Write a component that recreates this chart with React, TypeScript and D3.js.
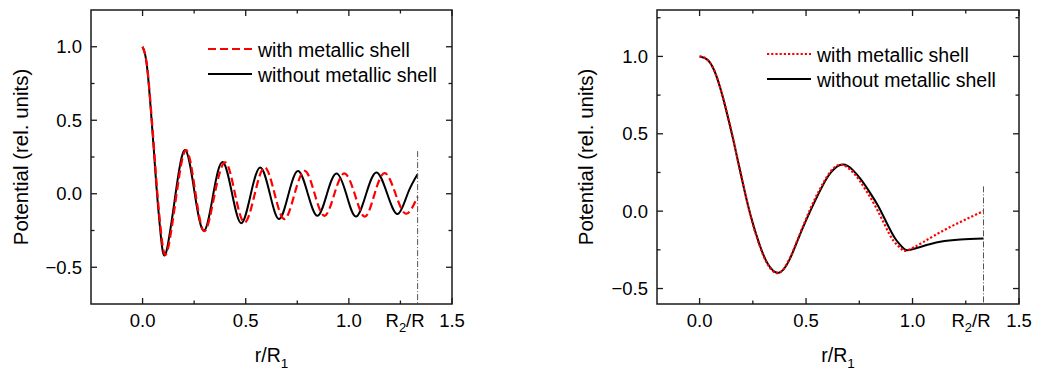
import * as d3 from "d3";

// ---- left panel data (r/R1, potential) ----
const leftWithoutX = [0, 0.012, 0.025, 0.04, 0.055, 0.07, 0.088, 0.113, 0.16, 0.207, 0.253, 0.298, 0.343, 0.388, 0.434, 0.479, 0.525, 0.571, 0.617, 0.662, 0.708, 0.754, 0.801, 0.848, 0.894, 0.94, 0.987, 1.034, 1.084, 1.134, 1.186, 1.237, 1.285, 1.333];
const leftWithoutY = [1.0, 0.95, 0.82, 0.57, 0.29, 0.0, -0.28, -0.405, 0.0, 0.297, 0.0, -0.252, 0.0, 0.216, 0.0, -0.2, 0.0, 0.179, 0.0, -0.172, 0.0, 0.154, 0.0, -0.15, 0.0, 0.138, 0.0, -0.155, 0.0, 0.145, 0.0, -0.138, 0.0, 0.132];
const leftWithX = [0, 0.012, 0.025, 0.04, 0.056, 0.072, 0.091, 0.118, 0.165, 0.212, 0.257, 0.301, 0.35, 0.401, 0.448, 0.495, 0.544, 0.592, 0.64, 0.688, 0.737, 0.786, 0.834, 0.882, 0.93, 0.978, 1.028, 1.077, 1.125, 1.174, 1.226, 1.277, 1.333];
const leftWithY = [1.0, 0.95, 0.83, 0.59, 0.3, 0.0, -0.28, -0.4, 0.0, 0.297, 0.0, -0.255, 0.0, 0.213, 0.0, -0.196, 0.0, 0.179, 0.0, -0.172, 0.0, 0.156, 0.0, -0.15, 0.0, 0.138, 0.0, -0.156, 0.0, 0.14, 0.0, -0.136, -0.02];

// ---- right panel data ----
const rightWithoutX = [0, 0.04, 0.08, 0.12, 0.16, 0.2, 0.24, 0.28, 0.32, 0.372, 0.42, 0.46, 0.5, 0.54, 0.58, 0.62, 0.672, 0.72, 0.76, 0.8, 0.84, 0.88, 0.92, 0.95, 0.975, 1.04, 1.13, 1.225, 1.333];
const rightWithoutY = [1.0, 0.975, 0.87, 0.68, 0.45, 0.2, -0.03, -0.21, -0.34, -0.398, -0.32, -0.19, -0.06, 0.06, 0.17, 0.255, 0.301, 0.265, 0.2, 0.12, 0.03, -0.08, -0.18, -0.23, -0.252, -0.23, -0.198, -0.183, -0.176];
const rightWithX = [0, 0.04, 0.08, 0.12, 0.16, 0.2, 0.24, 0.28, 0.32, 0.37, 0.42, 0.46, 0.5, 0.54, 0.58, 0.62, 0.665, 0.71, 0.75, 0.79, 0.83, 0.87, 0.91, 0.945, 0.972, 1.05, 1.163, 1.333];
const rightWithY = [1.0, 0.975, 0.87, 0.68, 0.45, 0.2, -0.035, -0.215, -0.345, -0.4, -0.315, -0.185, -0.05, 0.075, 0.18, 0.265, 0.3, 0.265, 0.2, 0.115, 0.02, -0.09, -0.19, -0.24, -0.255, -0.2, -0.112, 0.0];

const xMajor = [0, 0.5, 1.0, 1.5];
const xMinor = [0.25, 0.75, 1.25];
const yMajor = [-0.5, 0, 0.5, 1.0];
const yMinor = [-0.75, -0.25, 0.25, 0.75, 1.25];
const legendLabels = ["with metallic shell", "without metallic shell"];
const r2Ratio = 4 / 3;

const FONT = "'Liberation Sans', Arial, sans-serif";

const zip = (xs: number[], ys: number[]) => xs.map((x, i) => [x, ys[i]] as [number, number]);

function Panel(props: any) {
  const { left, right, top, bottom, xDomain, yDomain, withX, withY, withoutX, withoutY, dash, curve, legX, legY, lineTop, titleX } = props;
  const x = d3.scaleLinear(xDomain, [left, right]);
  const y = d3.scaleLinear(yDomain, [bottom, top]);
  const line = d3.line<[number, number]>().x(d => x(d[0])).y(d => y(d[1])).curve(curve);
  const fmt = d3.format(".1f");
  const yMin = yMinor.filter(v => v > yDomain[0] && v < yDomain[1]);

  const tick = (key: string, x1: number, y1: number, x2: number, y2: number) => (
    <line key={key} x1={x1} y1={y1} x2={x2} y2={y2} stroke="#1a1a1a" strokeWidth={1.3} />
  );

  return (
    <g fontFamily={FONT}>
      {/* curves */}
      <path d={line(zip(withoutX, withoutY)) || ""} fill="none" stroke="#000" strokeWidth={2} />
      <path d={line(zip(withX, withY)) || ""} fill="none" stroke="#ff0000" strokeWidth={2.2} strokeDasharray={dash} />

      {/* R2/R marker */}
      <line x1={x(r2Ratio)} x2={x(r2Ratio)} y1={y(lineTop)} y2={bottom} stroke="#555" strokeWidth={1} strokeDasharray="6,2,1,2" />

      {/* frame */}
      <rect x={left} y={top} width={right - left} height={bottom - top} fill="none" stroke="#1a1a1a" strokeWidth={1.5} />

      {/* ticks, inward on all sides */}
      {xMajor.map(v => tick("xb" + v, x(v), bottom, x(v), bottom - 6))}
      {xMajor.map(v => tick("xt" + v, x(v), top, x(v), top + 6))}
      {xMinor.map(v => tick("xbm" + v, x(v), bottom, x(v), bottom - 3.5))}
      {xMinor.map(v => tick("xtm" + v, x(v), top, x(v), top + 3.5))}
      {yMajor.map(v => tick("yl" + v, left, y(v), left + 6, y(v)))}
      {yMajor.map(v => tick("yr" + v, right, y(v), right - 6, y(v)))}
      {yMin.map(v => tick("ylm" + v, left, y(v), left + 3.5, y(v)))}
      {yMin.map(v => tick("yrm" + v, right, y(v), right - 3.5, y(v)))}

      {/* tick labels */}
      {xMajor.map(v => (
        <text key={"xl" + v} x={x(v)} y={327} textAnchor="middle" fontSize={18.5}>{fmt(v)}</text>
      ))}
      <text x={x(r2Ratio) + 7} y={327} textAnchor="end" fontSize={18.5}>
        R<tspan fontSize={13} dy={5}>2</tspan><tspan dy={-5}>/R</tspan>
      </text>
      {yMajor.map(v => (
        <text key={"yl" + v} x={left - 9} y={y(v)} dy="0.35em" textAnchor="end" fontSize={18.5}>{fmt(v)}</text>
      ))}

      {/* axis titles */}
      <text x={(left + right) / 2} y={361.5} textAnchor="middle" fontSize={19.5}>
        r/R<tspan fontSize={13.5} dy={6}>1</tspan>
      </text>
      <text transform={`translate(${titleX},${(top + bottom) / 2}) rotate(-90)`} textAnchor="middle" fontSize={20.5}>
        Potential (rel. units)
      </text>

      {/* legend */}
      <line x1={legX} x2={legX + 44} y1={legY} y2={legY} stroke="#ff0000" strokeWidth={2.2} strokeDasharray={dash} />
      <text x={legX + 50} y={legY + 7.5} fontSize={19.5}>{legendLabels[0]}</text>
      <line x1={legX} x2={legX + 44} y1={legY + 25} y2={legY + 25} stroke="#000" strokeWidth={2} />
      <text x={legX + 50} y={legY + 32.5} fontSize={19.5}>{legendLabels[1]}</text>
    </g>
  );
}

export default function App() {
  return (
    <svg width={1037} height={371} style={{ position: "absolute", left: 0, top: 0, background: "#fff" }}>
      <Panel left={91} right={452} top={10} bottom={304} xDomain={[-0.25, 1.5]} yDomain={[-0.75, 1.25]}
        withX={leftWithX} withY={leftWithY} withoutX={leftWithoutX} withoutY={leftWithoutY}
        dash="8,4" curve={d3.curveNatural} legX={208} legY={49} lineTop={0.29} titleX={28} />
      <Panel left={657} right={1019} top={10} bottom={304} xDomain={[-0.2, 1.5]} yDomain={[-0.6, 1.3]}
        withX={rightWithX} withY={rightWithY} withoutX={rightWithoutX} withoutY={rightWithoutY}
        dash="2.2,2" curve={d3.curveNatural} legX={767} legY={54} lineTop={0.16} titleX={593} />
    </svg>
  );
}
